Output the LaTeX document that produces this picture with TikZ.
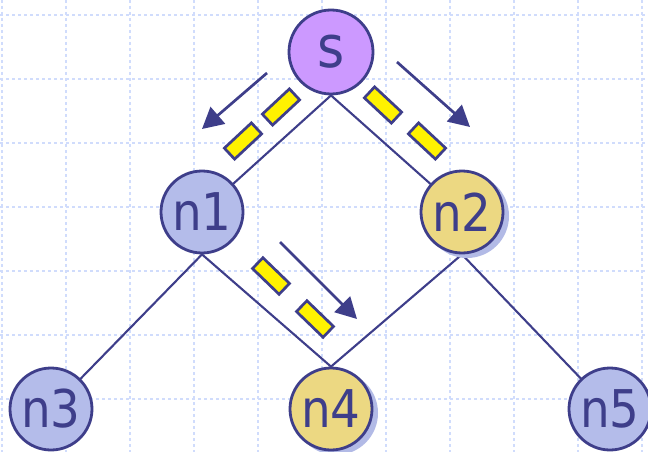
\documentclass[tikz,border=0pt]{standalone}
\usepackage{fontspec}
\usetikzlibrary{arrows.meta,backgrounds}
\newfontfamily\nodefont[FakeStretch=0.9]{DejaVu Sans}
\definecolor{ink}{RGB}{62,62,138}
\definecolor{gridblue}{RGB}{208,220,252}
\definecolor{violet}{RGB}{204,153,255}
\definecolor{lavender}{RGB}{180,188,234}
\definecolor{sand}{RGB}{236,216,130}
\definecolor{shade}{RGB}{178,186,230}
\pgfdeclarelayer{paper}
\pgfsetlayers{paper,background,main}
\tikzset{
  treenode/.style={circle, draw=ink, line width=2.8pt, minimum size=82pt,
    inner sep=0pt, text=ink, font=\nodefont\fontsize{52}{52}\selectfont},
  rootnode/.style={treenode, fill=violet, minimum size=84pt,
    font=\nodefont\fontsize{58}{58}\selectfont},
  plainnode/.style={treenode, fill=lavender},
  marknode/.style={treenode, fill=sand},
  shadowdisc/.style={circle, fill=shade, minimum size=84pt, inner sep=0pt},
  link/.style={draw=ink, line width=2.1pt},
  packet/.style={rectangle, draw=ink, fill=yellow, line width=2.7pt,
    minimum width=37pt, minimum height=15pt, inner sep=0pt},
  flow/.style={draw=ink, line width=2.7pt, -{Triangle[length=21pt,width=22pt]}},
  gridline/.style={draw=gridblue, line width=1.3pt,
    dash pattern=on 3pt off 3pt}
}
\begin{document}
\begin{tikzpicture}[x=1pt,y=-1pt]
  \useasboundingbox (0,0) rectangle (648,452);
  % background grid
  \begin{pgfonlayer}{paper}
    \fill[white] (0,0) rectangle (648,452);
    \foreach \gx in {2,66,...,642} \draw[gridline] (\gx,0) -- (\gx,452);
    \foreach \gy in {15,79,...,399} \draw[gridline] (0,\gy) -- (648,\gy);
  \end{pgfonlayer}

  % soft shadows behind the marked nodes
  \node[shadowdisc] (n2s) at (467,216) {};
  \node[shadowdisc] (n4s) at (336,413) {};

  % tree nodes
  \node[rootnode]  (s)  at (331,52)  {s};
  \node[plainnode] (n1) at (202,212) {n1};
  \node[marknode]  (n2) at (462,212) {n2};
  \node[plainnode] (n3) at (51,409)  {n3};
  \node[marknode]  (n4) at (331,409) {n4};
  \node[plainnode] (n5) at (610,409) {n5};

  % tree edges, kept under the nodes
  \begin{pgfonlayer}{background}
    \draw[link] (s.south) -- (n1.center);
    \draw[link] (s.south) -- (n2.center);
    \draw[link] (n1.south) -- (n3.center);
    \draw[link] (n1.south) -- (n4.north);
    \draw[link] (n2.south) -- (n4.north);
    \draw[link] (n2.south) -- (n5.center);
  \end{pgfonlayer}

  % packets travelling along the edges
  \node[packet, rotate=43]  (pa) at (281,107) {};
  \node[packet, rotate=43]  (pb) at (243,141) {};
  \node[packet, rotate=-43] (pc) at (383,105) {};
  \node[packet, rotate=-43] (pd) at (427,141) {};
  \node[packet, rotate=-44] (pe) at (271,276) {};
  \node[packet, rotate=-44] (pf) at (315,319) {};

  % direction arrows
  \coordinate (a1s) at (267,73);  \coordinate (a1t) at (202,129);
  \coordinate (a2s) at (397,62);  \coordinate (a2t) at (470,127);
  \coordinate (a3s) at (280,242); \coordinate (a3t) at (357,319);
  \draw[flow] (a1s) -- (a1t);
  \draw[flow] (a2s) -- (a2t);
  \draw[flow] (a3s) -- (a3t);
\end{tikzpicture}
\end{document}
